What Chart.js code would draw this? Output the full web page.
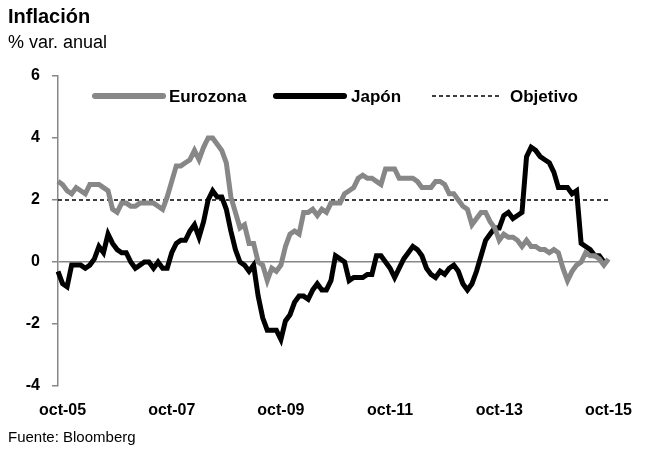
<!DOCTYPE html>
<html>
<head>
<meta charset="utf-8">
<script src="https://cdn.jsdelivr.net/npm/chart.js@4"></script>
<style>
  body { margin: 0; background: #fff; font-family: "Liberation Sans", Arial, sans-serif; }
  #wrap { position: relative; width: 647px; height: 453px; }
  #wrap canvas { position: absolute; left: 0; top: 0; }
  .txt { position: absolute; left: 8px; color: #000; white-space: nowrap; }
  #title { top: 5px; font-size: 20px; font-weight: bold; }
  #sub { top: 32px; font-size: 18px; }
  #src { top: 428px; font-size: 15px; }
</style>
</head>
<body>
<div id="wrap">
  <canvas id="line-chart" width="647" height="453"></canvas>
  <div class="txt" id="title">Inflación</div>
  <div class="txt" id="sub">% var. anual</div>
  <div class="txt" id="src">Fuente: Bloomberg</div>
</div>
<script>
// meses sep-05 .. oct-15
var meses = ['ene', 'feb', 'mar', 'abr', 'may', 'jun', 'jul', 'ago', 'sep', 'oct', 'nov', 'dic'];
var labels = [];
for (var y = 2005; y <= 2015; y++) {
    for (var m = 0; m < 12; m++) {
        if (y == 2005 && m < 8) continue;
        if (y == 2015 && m > 9) continue;
        labels.push(meses[m] + '-' + String(y).slice(2));
    }
}

var eurozona = [
    2.6, 2.5, 2.3, 2.2,
    2.4, 2.3, 2.2, 2.5, 2.5, 2.5, 2.4, 2.3, 1.7, 1.6, 1.9, 1.9,
    1.8, 1.8, 1.9, 1.9, 1.9, 1.9, 1.8, 1.7, 2.1, 2.6, 3.1, 3.1,
    3.2, 3.3, 3.6, 3.3, 3.7, 4.0, 4.0, 3.8, 3.6, 3.2, 2.1, 1.6,
    1.1, 1.2, 0.6, 0.6, 0.0, -0.1, -0.6, -0.2, -0.3, -0.1, 0.5, 0.9,
    1.0, 0.9, 1.6, 1.6, 1.7, 1.5, 1.7, 1.6, 1.9, 1.9, 1.9, 2.2,
    2.3, 2.4, 2.7, 2.8, 2.7, 2.7, 2.6, 2.5, 3.0, 3.0, 3.0, 2.7,
    2.7, 2.7, 2.7, 2.6, 2.4, 2.4, 2.4, 2.6, 2.6, 2.5, 2.2, 2.2,
    2.0, 1.8, 1.7, 1.2, 1.4, 1.6, 1.6, 1.3, 1.1, 0.7, 0.9, 0.8,
    0.8, 0.7, 0.5, 0.7, 0.5, 0.5, 0.4, 0.4, 0.3, 0.4, 0.3, -0.2,
    -0.6, -0.3, -0.1, 0.0, 0.3, 0.2, 0.2, 0.1, -0.1, 0.1
];

var japon = [
    -0.3, -0.7, -0.8, -0.1,
    -0.1, -0.1, -0.2, -0.1, 0.1, 0.5, 0.3, 0.9, 0.6, 0.4, 0.3, 0.3,
    0.0, -0.2, -0.1, 0.0, 0.0, -0.2, 0.0, -0.2, -0.2, 0.3, 0.6, 0.7,
    0.7, 1.0, 1.2, 0.8, 1.3, 2.0, 2.3, 2.1, 2.1, 1.7, 1.0, 0.4,
    0.0, -0.1, -0.3, -0.1, -1.1, -1.8, -2.2, -2.2, -2.2, -2.5, -1.9, -1.7,
    -1.3, -1.1, -1.1, -1.2, -0.9, -0.7, -0.9, -0.9, -0.6, 0.2, 0.1, 0.0,
    -0.6, -0.5, -0.5, -0.5, -0.4, -0.4, 0.2, 0.2, 0.0, -0.2, -0.5, -0.2,
    0.1, 0.3, 0.5, 0.4, 0.2, -0.2, -0.4, -0.5, -0.3, -0.4, -0.2, -0.1,
    -0.3, -0.7, -0.9, -0.7, -0.3, 0.2, 0.7, 0.9, 1.1, 1.1, 1.5, 1.6,
    1.4, 1.5, 1.6, 3.4, 3.7, 3.6, 3.4, 3.3, 3.2, 2.9, 2.4, 2.4,
    2.4, 2.2, 2.3, 0.6, 0.5, 0.4, 0.2, 0.2, 0.0, null
];

var objetivo = labels.map(function () { return 2; });

var yTicks = [-4, -2, 0, 2, 4, 6];
var xTickLabels = ['oct-05', 'oct-07', 'oct-09', 'oct-11', 'oct-13', 'oct-15'];

var gris = '#878787';
var fuenteEje = { family: '"Liberation Sans", Arial, sans-serif', size: 16, weight: 'bold' };

// leyenda dibujada dentro del area del grafico
var leyenda = {
    id: 'leyenda',
    afterDraw: function (chart) {
        var c = chart.ctx;
        var yy = 96;
        var items = [
            { x1: 95, x2: 163, tx: 169, text: 'Eurozona', color: gris, w: 6, dash: [] },
            { x1: 276, x2: 344, tx: 351, text: 'Japón', color: '#000', w: 6, dash: [] },
            { x1: 432, x2: 500, tx: 510, text: 'Objetivo', color: '#000', w: 1.5, dash: [4, 3] }
        ];
        c.save();
        items.forEach(function (it) {
            c.beginPath();
            c.setLineDash(it.dash);
            c.lineWidth = it.w;
            c.lineCap = it.dash.length ? 'butt' : 'round';
            c.strokeStyle = it.color;
            c.moveTo(it.x1, yy);
            c.lineTo(it.x2, yy);
            c.stroke();
            c.setLineDash([]);
            c.fillStyle = '#000';
            c.font = 'bold 17px "Liberation Sans", Arial, sans-serif';
            c.textBaseline = 'middle';
            c.fillText(it.text, it.tx, yy + 1);
        });
        c.restore();
    }
};

var ctx = document.getElementById('line-chart');
var chartGraph = new Chart(ctx, {
    type: 'line',
    data: {
        labels: labels,
        datasets: [{
            label: 'Eurozona',
            data: eurozona,
            borderColor: gris,
            borderWidth: 5,
            pointRadius: 0,
            tension: 0,
            fill: false
        }, {
            label: 'Japón',
            data: japon,
            borderColor: '#000',
            borderWidth: 5,
            pointRadius: 0,
            tension: 0,
            fill: false
        }, {
            label: 'Objetivo',
            data: objetivo,
            borderColor: '#000',
            borderWidth: 1.5,
            borderDash: [4, 3],
            pointRadius: 0,
            fill: false
        }]
    },
    options: {
        responsive: false,
        animation: false,
        layout: { padding: { top: 76, right: 27, bottom: 0, left: 0 } },
        plugins: {
            legend: { display: false },
            tooltip: { enabled: false }
        },
        scales: {
            x: {
                type: 'category',
                offset: false,
                afterFit: function (s) { s.height = 67; },
                border: { display: false },
                grid: { display: false, drawTicks: false },
                ticks: {
                    autoSkip: false,
                    maxRotation: 0,
                    padding: 15,
                    color: '#000',
                    font: fuenteEje,
                    callback: function (v, i) {
                        var l = this.getLabelForValue(v);
                        return xTickLabels.indexOf(l) >= 0 ? l : '';
                    }
                }
            },
            y: {
                min: -4,
                max: 6,
                afterFit: function (s) { s.width = 58; },
                afterBuildTicks: function (s) { s.ticks = yTicks.map(function (v) { return { value: v }; }); },
                border: { display: true, color: gris, width: 1.5 },
                grid: {
                    drawOnChartArea: true,
                    tickLength: 6,
                    tickColor: gris,
                    lineWidth: 1.5,
                    color: function (c) { return c.tick && c.tick.value === 0 ? gris : 'rgba(0,0,0,0)'; }
                },
                ticks: {
                    padding: 12,
                    color: '#000',
                    font: fuenteEje
                }
            }
        }
    },
    plugins: [leyenda]
});
</script>
</body>
</html>
